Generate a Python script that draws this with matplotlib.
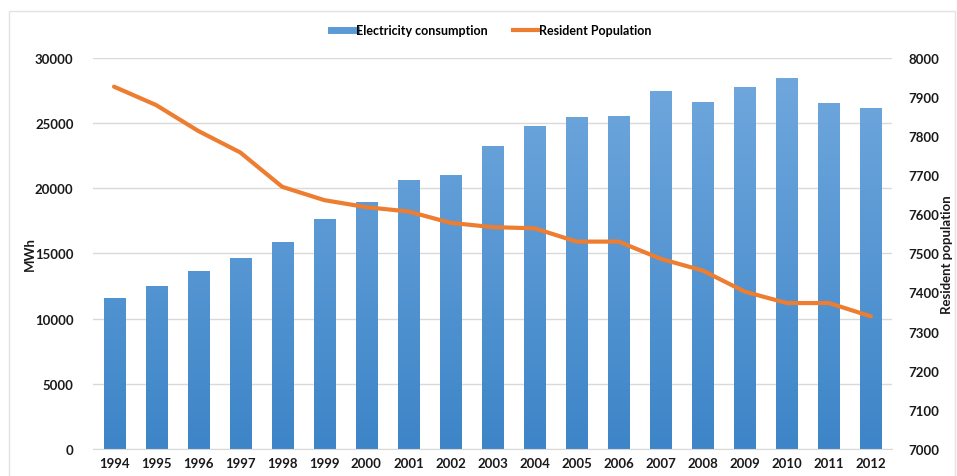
import matplotlib
matplotlib.use('Agg')
import matplotlib.pyplot as plt
from matplotlib.lines import Line2D
from matplotlib.patches import Rectangle
from matplotlib.colors import LinearSegmentedColormap
import numpy as np

plt.rcParams['font.family'] = ['Lato', 'DejaVu Sans']

years = [str(y) for y in range(1994, 2013)]
consumption = [11600, 12500, 13650, 14650, 15850, 17650, 18950, 20650, 21000,
               23250, 24750, 25450, 25500, 27450, 26600, 27750, 28450, 26500, 26150]
population = [7926, 7879, 7813, 7758, 7670, 7636, 7618, 7607, 7578,
              7567, 7564, 7530, 7530, 7486, 7456, 7402, 7373, 7373, 7339]

BAR_TOP = '#72a9de'
BAR_BOT = '#3d85c8'
LINE_C = '#ed7d31'
GRID_C = '#d9d9d9'
TXT = '#1a1a1a'
FS = 9.5

fig = plt.figure(figsize=(9.57, 4.77), dpi=100)
ax = fig.add_axes([93/957, 27/477, 799/957, 391.3/477])
ax2 = ax.twinx()

x = np.arange(len(years))
bars = ax.bar(x, consumption, 0.5, color='none', edgecolor='none', zorder=2)

# vertical gradient fill for each bar
cmap = LinearSegmentedColormap.from_list('bars', [BAR_BOT, BAR_TOP])
grad = np.linspace(0, 1, 256).reshape(-1, 1)
for b in bars:
    x0, w = b.get_x(), b.get_width()
    im = ax.imshow(grad, cmap=cmap, origin='lower', aspect='auto',
                   extent=(x0, x0 + w, 0, 30000), vmin=0, vmax=1, zorder=2)
    im.set_clip_path(b)

ax.set_xlim(-0.5, len(years) - 0.5)
ax.set_ylim(0, 30000)
ax.set_yticks(range(0, 30001, 5000))
ax.grid(axis='y', color=GRID_C, lw=1, zorder=0)
ax.set_axisbelow(True)
ax.set_xticks(x)
ax.set_xticklabels(years)

ax2.plot(x, population, color=LINE_C, lw=3, solid_capstyle='round', zorder=3)
ax2.set_ylim(7000, 8000)
ax2.set_yticks(range(7000, 8001, 100))

for a in (ax, ax2):
    for s in a.spines.values():
        s.set_visible(False)
    a.tick_params(length=0, labelsize=FS, colors=TXT)
    for t in a.get_xticklabels() + a.get_yticklabels():
        t.set_fontweight('bold')
ax.spines['bottom'].set_visible(True)
ax.spines['bottom'].set_color(GRID_C)
ax.tick_params(axis='x', pad=6)
ax.tick_params(axis='y', pad=14)
ax2.tick_params(axis='y', pad=12)

ax.set_ylabel('MWh', fontsize=FS, fontweight='bold', color=TXT)
ax2.set_ylabel('Resident population', fontsize=FS, fontweight='bold', color=TXT)
ax.yaxis.set_label_coords(-0.071, 0.5)
ax2.yaxis.set_label_coords(1.061, 0.5)

handles = [Line2D([], [], color='#5b9bd5', lw=5),
           Line2D([], [], color=LINE_C, lw=3)]
fig.legend(handles, ['Electricity consumption', 'Resident Population'],
           loc='center', bbox_to_anchor=(0.513, 0.935), ncol=2, frameon=False,
           handlelength=2.0, handletextpad=0.05, columnspacing=2.0,
           prop={'size': 9, 'weight': 'bold'})

# light frame around the chart, open at the bottom edge of the image
fig.patches.append(Rectangle((9/957, -5/477), 946/957, 470/477, transform=fig.transFigure,
                             fill=False, edgecolor='#e3e3e3', lw=1))

fig.savefig('out.png', dpi=100)
